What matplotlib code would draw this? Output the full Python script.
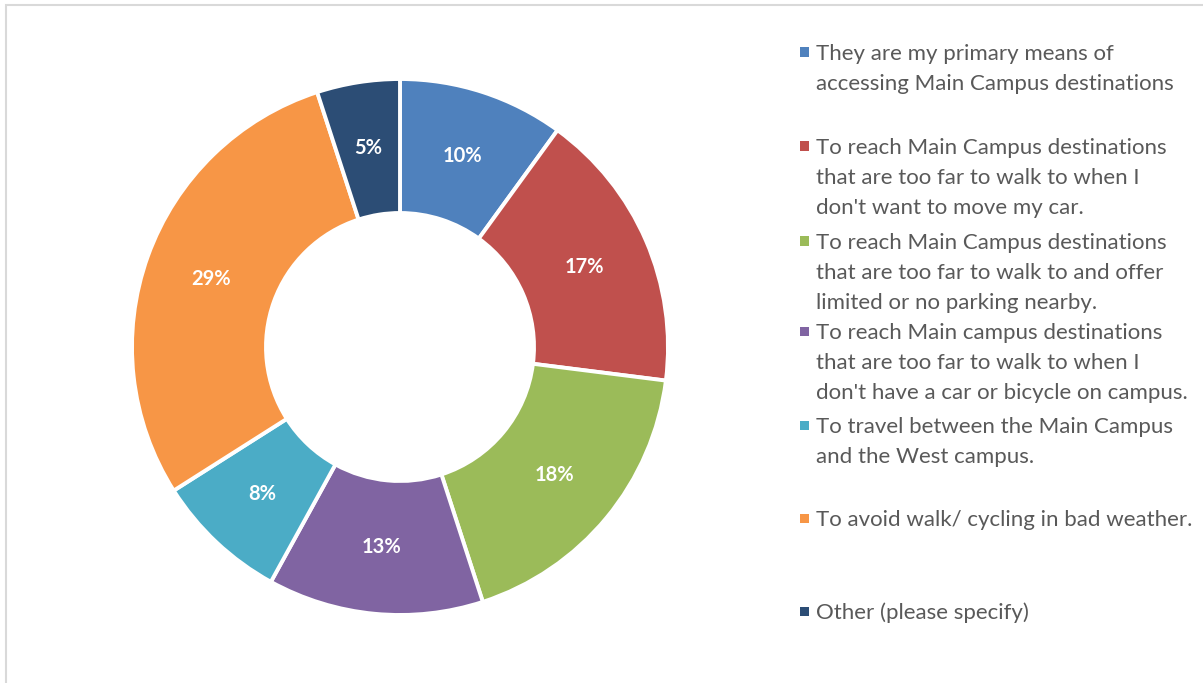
import matplotlib
matplotlib.use("Agg")
import matplotlib.pyplot as plt
from matplotlib.patches import Rectangle

# Survey shares, clockwise from 12 o'clock
categories = [
    "They are my primary means of\naccessing Main Campus destinations",
    "To reach Main Campus destinations\nthat are too far to walk to when I\ndon't want to move my car.",
    "To reach Main Campus destinations\nthat are too far to walk to and offer\nlimited or no parking nearby.",
    "To reach Main campus destinations\nthat are too far to walk to when I\ndon't have a car or bicycle on campus.",
    "To travel between the Main Campus\nand the West campus.",
    "To avoid walk/ cycling in bad weather.",
    "Other (please specify)",
]
shares = [10, 17, 18, 13, 8, 29, 5]
colors = ["#4F81BD", "#C0504D", "#9BBB59", "#8064A2", "#4BACC6", "#F79646", "#2C4D75"]

W, H = 1203, 683
fig = plt.figure(figsize=(W / 100, H / 100), dpi=100)
fig.patch.set_facecolor("white")

# chart frame
fig.add_artist(Rectangle((5.5 / W, -0.1), 1.2, (H - 5.5) / H + 0.1,
                         transform=fig.transFigure, fill=False,
                         edgecolor="#D9D9D9", linewidth=1.5))

cx, cy, r = 400, 347, 268
ax = fig.add_axes([(cx - r) / W, (H - cy - r) / H, 2 * r / W, 2 * r / H])
wedges, texts, autotexts = ax.pie(
    shares, colors=colors, startangle=90, counterclock=False,
    radius=1.0, pctdistance=0.75,
    autopct=lambda p: f"{p:.0f}%",
    wedgeprops=dict(width=0.5, edgecolor="white", linewidth=2.8),
    textprops=dict(color="white", fontsize=14.5, fontweight="bold", family="Lato"),
)
ax.set_xlim(-1, 1)
ax.set_ylim(-1, 1)
ax.set_aspect("equal")
ax.axis("off")

# legend entries: first-line centre (px from top) per entry
first_line_y = [52, 146, 241, 331, 425, 518, 611]
line_h = 30
for label, col, y in zip(categories, colors, first_line_y):
    fig.add_artist(Rectangle((800 / W, (H - y - 4.5) / H), 9 / W, 9 / H,
                             transform=fig.transFigure, facecolor=col,
                             edgecolor="none"))
    for i, line in enumerate(label.split("\n")):
        fig.text(816 / W, (H - y - i * line_h) / H, line, fontsize=16,
                 family="Lato", color="#595959", va="center_baseline", ha="left")

fig.savefig("out.png", dpi=100)
